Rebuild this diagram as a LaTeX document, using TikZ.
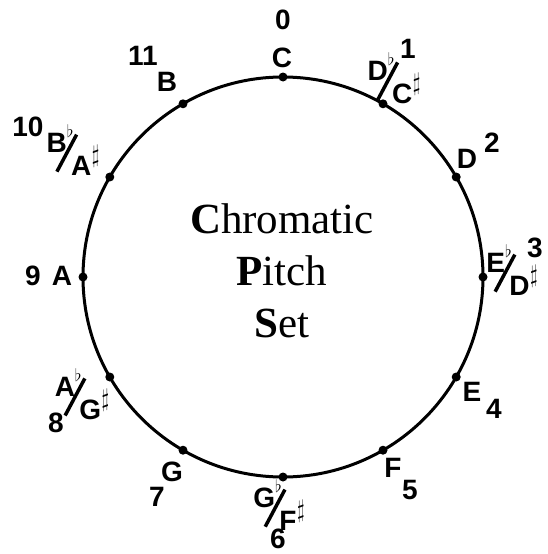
\documentclass[tikz,border=0pt]{standalone}
\usepackage{fontspec}
\setmainfont{Liberation Serif}
\setsansfont{Liberation Sans}
\usepackage{graphicx}
\usetikzlibrary{positioning}

% enharmonic pair: upper flat name / lower sharp name
\newcommand{\enh}[2]{%
  \raisebox{11pt}{#1}%
  \raisebox{26pt}{\fontsize{16}{16}\selectfont$\flat$}%
  \kern-18pt\raisebox{-9pt}{\rotatebox{62}{\rule{42pt}{3.5pt}}}%
  \kern-7pt\raisebox{-12pt}{#2}%
  \kern0.5pt\raisebox{1pt}{\fontsize{27}{27}\selectfont\scalebox{0.8}[1]{$\sharp$}}}

\begin{document}
\begin{tikzpicture}[x=1pt, y=-1pt,
  pc/.style={font=\sffamily\bfseries\fontsize{28}{28}\selectfont, inner sep=0pt},
  num/.style={font=\sffamily\bfseries\fontsize{28}{28}\selectfont, inner sep=0pt},
  dot/.style={circle, fill=black, inner sep=0pt, minimum size=9pt},
  title/.style={font=\fontsize{43}{43}\selectfont, anchor=base, inner sep=0pt}
]
  \useasboundingbox (0,0) rectangle (548,554);
  \draw[line width=3pt] (283,277) circle (200);
  \foreach \k in {0,...,11}
    \node[dot] (p\k) at ({283+200*cos(90-30*\k)}, {277-200*sin(90-30*\k)}) {};

  \node[num] (n0) at (283,20) {0};
  \node[pc] (c0) at (282,58) {C};
  \node[num] (n1) at (408,49) {1};
  \node[pc] (c1) at (394,78) {\enh{D}{C}};
  \node[num] (n2) at (492,143) {2};
  \node[pc] (c2) at (467,159) {D};
  \node[num] (n3) at (535,248) {3};
  \node[pc] (c3) at (512,270) {\enh{E}{D}};
  \node[num] (n4) at (494,409) {4};
  \node[pc] (c4) at (472,392) {E};
  \node[num] (n5) at (410,490) {5};
  \node[pc] (c5) at (393,468) {F};
  \node[num] (n6) at (278,539) {6};
  \node[pc] (c6) at (279,505) {\enh{G}{F}};
  \node[num] (n7) at (157,497) {7};
  \node[pc] (c7) at (172,472) {G};
  \node[num] (n8) at (56,423) {8};
  \node[pc] (c8) at (82,394) {\enh{A}{G}};
  \node[num] (n9) at (33,276) {9};
  \node[pc] (c9) at (62,276) {A};
  \node[num] (n10) at (28,127) {10};
  \node[pc] (c10) at (73,150) {\enh{B}{A}};
  \node[num] (n11) at (143,56) {11};
  \node[pc] (c11) at (167,82) {B};

  \node[title] (t1) at (282,233) {\textbf{C}hromatic};
  \node[title] (t2) at (282,285) {\textbf{P}itch};
  \node[title] (t3) at (282,337) {\textbf{S}et};
\end{tikzpicture}
\end{document}
